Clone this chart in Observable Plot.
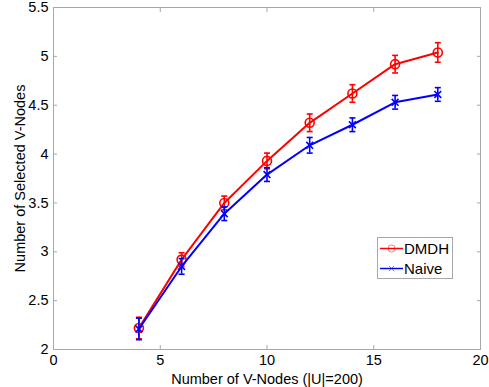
<!DOCTYPE html>
<html>
<head>
<meta charset="utf-8">
<script src="https://cdn.jsdelivr.net/npm/d3@7"></script>
<script src="https://cdn.jsdelivr.net/npm/@observablehq/plot@0.6"></script>
<style>
  body { margin: 0; background: #fff; }
  #chart { position: relative; width: 489px; height: 387px; font-family: "Liberation Sans", Arial, sans-serif; }
  #legend { position: absolute; left: 377px; top: 237px; }
</style>
</head>
<body>
<div id="chart"></div>
<script>
// Number of V-Nodes on the x axis (|U| = 200)
const nodes = [4, 6, 8, 10, 12, 14, 16, 18];

// Mean number of selected V-Nodes and error-bar half widths
const dmdh     = [2.22, 2.92, 3.50, 3.93, 4.32, 4.62, 4.92, 5.04];
const dmdhErr  = [0.11, 0.07, 0.07, 0.08, 0.09, 0.09, 0.09, 0.10];
const naive    = [2.21, 2.85, 3.39, 3.79, 4.09, 4.30, 4.53, 4.61];
const naiveErr = [0.11, 0.08, 0.07, 0.07, 0.08, 0.07, 0.07, 0.07];

const seriesNames = ["DMDH", "Naive"];
const seriesColors = ["#ff0000", "#0000ff"];

const xTicks = [0, 5, 10, 15, 20];
const yTicks = [2, 2.5, 3, 3.5, 4, 4.5, 5, 5.5];

const rows = (name, ys, errs) =>
  nodes.map((n, i) => ({series: name, x: n, y: ys[i], lo: ys[i] - errs[i], hi: ys[i] + errs[i]}));
const dmdhRows = rows("DMDH", dmdh, dmdhErr);
const naiveRows = rows("Naive", naive, naiveErr);

// small horizontal cap drawn at the ends of each error bar
const cap = {draw(ctx) { ctx.moveTo(-3, 0); ctx.lineTo(3, 0); }};

const frameColor = "#a8a8a8";
const font = "'Liberation Sans', Arial, sans-serif";

function seriesMarks(data, color, symbol, r) {
  return [
    Plot.line(data, {x: "x", y: "y", stroke: color, strokeWidth: 2}),
    Plot.ruleX(data, {x: "x", y1: "lo", y2: "hi", stroke: color, strokeWidth: 1.6}),
    Plot.dot(data, {x: "x", y: "lo", symbol: cap, stroke: color, strokeWidth: 1.6}),
    Plot.dot(data, {x: "x", y: "hi", symbol: cap, stroke: color, strokeWidth: 1.6}),
    Plot.dot(data, {x: "x", y: "y", symbol, r, stroke: color, strokeWidth: 1.6, fill: "none"})
  ];
}

const chart = Plot.plot({
  width: 489,
  height: 387,
  marginLeft: 53,
  marginRight: 9,
  marginTop: 7,
  marginBottom: 38,
  style: {fontSize: "14.5px", fontFamily: font, color: "#000", background: "#fff"},
  x: {domain: [0, 20]},
  y: {domain: [2, 5.5]},
  marks: [
    Plot.frame({stroke: frameColor}),
    // inward ticks on all four sides
    Plot.axisX(xTicks, {anchor: "bottom", tickSize: -4, stroke: frameColor, fill: "none", label: null}),
    Plot.axisX(xTicks, {anchor: "top", tickSize: -4, stroke: frameColor, fill: "none", label: null}),
    Plot.axisY(yTicks, {anchor: "left", tickSize: -4, stroke: frameColor, fill: "none", label: null}),
    Plot.axisY(yTicks, {anchor: "right", tickSize: -4, stroke: frameColor, fill: "none", label: null}),
    // tick labels and titles
    Plot.axisX(xTicks, {anchor: "bottom", tickSize: 0, tickPadding: 5, stroke: "none",
      label: "Number of V-Nodes (|U|=200)", labelAnchor: "center", labelArrow: "none", labelOffset: 34}),
    Plot.axisY(yTicks, {anchor: "left", tickSize: 0, tickPadding: 5, stroke: "none",
      tickFormat: d => String(d),
      label: "Number of Selected V-Nodes", labelAnchor: "center", labelArrow: "none", labelOffset: 39}),
    ...seriesMarks(dmdhRows, seriesColors[0], "circle", 4.5),
    ...seriesMarks(naiveRows, seriesColors[1], "times", 3.2)
  ]
});

const container = document.getElementById("chart");
container.appendChild(chart);

// legend box inside the plot area
const legend = d3.create("svg").attr("id", "legend").attr("width", 76).attr("height", 42);
legend.append("rect").attr("x", 0.5).attr("y", 0.5).attr("width", 75).attr("height", 41)
  .attr("fill", "#fff").attr("stroke", frameColor);
const markers = [d3.symbolCircle, d3.symbolTimes];
seriesNames.forEach((name, i) => {
  const cy = 11.5 + i * 20;
  const g = legend.append("g");
  g.append("line").attr("x1", 3).attr("x2", 26).attr("y1", cy).attr("y2", cy)
    .attr("stroke", seriesColors[i]).attr("stroke-width", 1.5);
  g.append("path").attr("d", d3.symbol(markers[i], i === 0 ? 40 : 20)())
    .attr("transform", `translate(14.5,${cy})`).attr("fill", "none")
    .attr("stroke", seriesColors[i]).attr("stroke-opacity", 0.5);
  g.append("text").attr("x", 27).attr("y", cy).attr("dy", "0.35em")
    .attr("font-size", 15).attr("font-family", font)
    .text(name);
});
container.appendChild(legend.node());
</script>
</body>
</html>
